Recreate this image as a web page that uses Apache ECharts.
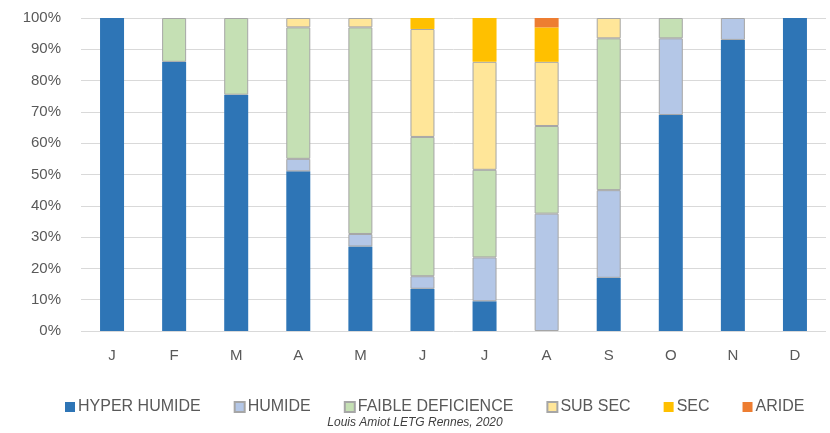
<!DOCTYPE html>
<html>
<head>
<meta charset="utf-8">
<script src="https://cdn.jsdelivr.net/npm/echarts@6/dist/echarts.min.js"></script>
<style>
  html, body { margin: 0; padding: 0; background: #fff; }
  #chart { width: 830px; height: 433px; }
</style>
</head>
<body>
<div id="chart"></div>
<script>
const months = ['J', 'F', 'M', 'A', 'M', 'J', 'J', 'A', 'S', 'O', 'N', 'D']
const hyperHumide = [100, 86, 75.5, 51, 27, 13.5, 9.5, 0, 17, 69, 93, 100]
const humide = [0, 0, 0, 4, 4, 4, 14, 37.5, 28, 24.5, 7, 0]
const faibleDeficience = [0, 14, 24.5, 42, 66, 44.5, 28, 28, 48.5, 6.5, 0, 0]
const subSec = [0, 0, 0, 3, 3, 34.5, 34.5, 20.5, 6.5, 0, 0, 0]
const sec = [0, 0, 0, 0, 0, 3.5, 14, 11, 0, 0, 0, 0]
const aride = [0, 0, 0, 0, 0, 0, 0, 3, 0, 0, 0, 0]
const yTicks = [0, 10, 20, 30, 40, 50, 60, 70, 80, 90, 100]

const chart = echarts.init(document.getElementById('chart'))

const font = 'Liberation Sans'
const edge = '#a6a6a6'

function layer(name, data, color, border) {
  return {
    name: name,
    type: 'bar',
    stack: 'total',
    // empty segments are left out so their outline does not show
    data: data.map(v => (v === 0 ? null : v)),
    barWidth: 24,
    itemStyle: {
      color: color,
      borderColor: border ? edge : color,
      borderWidth: border ? 1 : 0,
    },
  }
}

const options = {
  animation: false,
  grid: {
    left: 81,
    right: 4,
    top: 18,
    bottom: 102,
  },
  legend: {
    bottom: 13,
    left: 60,
    itemWidth: 10,
    itemHeight: 10,
    itemGap: 33,
    icon: 'rect',
    textStyle: {
      color: '#595959',
      fontFamily: font,
      fontSize: 16,
      padding: [0, 0, 0, -2],
    },
  },
  xAxis: {
    type: 'category',
    data: months,
    axisLine: { show: false },
    axisTick: { show: false },
    axisLabel: {
      color: '#595959',
      fontFamily: font,
      fontSize: 15,
      margin: 17,
    },
  },
  yAxis: {
    type: 'value',
    min: yTicks[0],
    max: yTicks[yTicks.length - 1],
    interval: 10,
    axisLine: { show: false },
    axisTick: { show: false },
    axisLabel: {
      color: '#595959',
      fontFamily: font,
      fontSize: 15,
      margin: 20,
      formatter: '{value}%',
    },
    splitLine: {
      lineStyle: { color: '#d9d9d9', width: 1 },
    },
  },
  series: [
    layer('HYPER HUMIDE', hyperHumide, '#2e75b6', false),
    layer('HUMIDE', humide, '#b4c7e7', true),
    layer('FAIBLE DEFICIENCE', faibleDeficience, '#c5e0b4', true),
    layer('SUB SEC', subSec, '#ffe699', true),
    layer('SEC', sec, '#ffc000', false),
    layer('ARIDE', aride, '#ed7d31', false),
  ],
  graphic: [
    {
      type: 'text',
      left: 'center',
      top: 417,
      style: {
        text: 'Louis Amiot LETG Rennes, 2020',
        fill: '#404040',
        font: 'italic 12px "Liberation Sans"',
      },
    },
  ],
}
options && chart.setOption(options)
</script>
</body>
</html>
